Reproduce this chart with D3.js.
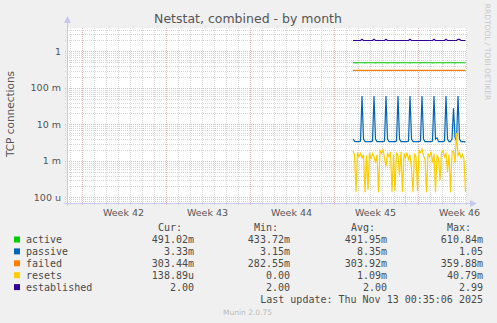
<!DOCTYPE html>
<html>
<head>
<meta charset="utf-8">
<script src="https://cdn.jsdelivr.net/npm/d3@7"></script>
<style>
  body { margin: 0; background: #f0f0f0; }
  svg { display: block; }
  text { font-family: "DejaVu Sans", sans-serif; }
  .mono { font-family: "DejaVu Sans Mono", monospace; font-size: 10px; fill: #4a4a4a; }
</style>
</head>
<body>
<svg id="chart" width="497" height="323" viewBox="0 0 497 323"></svg>
<script>
// series + legend values
const series_names = ["active", "passive", "failed", "resets", "established"]
const series_colors = ["#00cc00", "#0066b3", "#ff8000", "#ffcc00", "#330099"]
const cur_values = ["491.02m", "3.33m", "303.44m", "138.89u", "2.00"]
const min_values = ["433.72m", "3.15m", "282.55m", "0.00", "2.00"]
const avg_values = ["491.95m", "8.35m", "303.92m", "1.09m", "2.00"]
const max_values = ["610.84m", "1.05", "359.88m", "40.79m", "2.99"]

const y_tick_values = [1e-4, 1e-3, 1e-2, 1e-1, 1]
const y_tick_labels = ["100 u", "1 m", "10 m", "100 m", "1"]

// samples every 3 hours starting at this time
const data_start = Date.UTC(2025, 10, 4, 15)
const step_hours = 3

const active = [0.491, 0.491, 0.490, 0.491, 0.491, 0.492, 0.491, 0.491, 0.490, 0.491,
  0.491, 0.491, 0.492, 0.491, 0.491, 0.490, 0.491, 0.491, 0.491, 0.491,
  0.492, 0.491, 0.491, 0.490, 0.491, 0.491, 0.491, 0.492, 0.491, 0.491,
  0.490, 0.491, 0.491, 0.491, 0.491, 0.492, 0.491, 0.491, 0.490, 0.491,
  0.491, 0.491, 0.492, 0.491, 0.491, 0.490, 0.491, 0.491, 0.491, 0.491,
  0.492, 0.491, 0.491, 0.490, 0.491, 0.491, 0.491, 0.492, 0.491, 0.491,
  0.490, 0.491, 0.491, 0.491, 0.491, 0.492, 0.491, 0.491, 0.490, 0.491,
  0.491, 0.491, 0.491, 0.491, 0.491, 0.491]

const passive = [0.0040, 0.0035, 0.0034, 0.0034, 0.0034, 0.0035, 0.06, 0.0040, 0.0034, 0.0034,
  0.0034, 0.0034, 0.0034, 0.0035, 0.06, 0.0040, 0.0034, 0.0034, 0.0034, 0.0034,
  0.0034, 0.0035, 0.06, 0.0040, 0.0034, 0.0034, 0.0034, 0.0034, 0.0034, 0.0035,
  0.06, 0.0040, 0.0034, 0.0034, 0.0034, 0.0034, 0.0034, 0.0035, 0.06, 0.0040,
  0.0034, 0.0034, 0.0034, 0.0034, 0.0034, 0.0035, 0.06, 0.0040, 0.0034, 0.0034,
  0.0034, 0.0034, 0.0034, 0.0035, 0.06, 0.0040, 0.0043, 0.0034, 0.0034, 0.0034,
  0.0034, 0.0035, 0.06, 0.0040, 0.0034, 0.0034, 0.0040, 0.028, 0.0045, 0.0036,
  0.06, 0.0040, 0.0034, 0.0034, 0.0034, 0.0033]

const failed = [0.303, 0.303, 0.304, 0.303, 0.303, 0.303, 0.304, 0.303, 0.303, 0.303,
  0.303, 0.304, 0.303, 0.303, 0.303, 0.303, 0.304, 0.303, 0.303, 0.303,
  0.303, 0.304, 0.303, 0.303, 0.303, 0.303, 0.304, 0.303, 0.303, 0.303,
  0.303, 0.304, 0.303, 0.303, 0.303, 0.303, 0.304, 0.303, 0.303, 0.303,
  0.303, 0.304, 0.303, 0.303, 0.303, 0.303, 0.304, 0.303, 0.303, 0.303,
  0.303, 0.304, 0.303, 0.303, 0.303, 0.303, 0.304, 0.303, 0.303, 0.303,
  0.303, 0.304, 0.303, 0.303, 0.303, 0.303, 0.304, 0.303, 0.303, 0.303,
  0.303, 0.303, 0.303, 0.303, 0.303, 0.303]

const resets = [0.0019, 0.0015, 0.00014, 0.0017, 0.0013, 0.0016, 0.0012, 0.0015, 0.00014, 0.0014,
  0.00016, 0.0017, 0.0011, 0.0016, 0.0013, 0.0009, 0.0015, 0.00014, 0.0019, 0.0016,
  0.0021, 0.0012, 0.0007, 0.0016, 0.0013, 0.0018, 0.00014, 0.0015, 0.00015, 0.0017,
  0.0014, 0.0004, 0.0018, 0.00014, 0.0016, 0.0012, 0.0017, 0.0011, 0.0015, 0.0006,
  0.00014, 0.0016, 0.0013, 0.00015, 0.0019, 0.0017, 0.0021, 0.0014, 0.0011, 0.00014,
  0.0016, 0.0013, 0.0018, 0.0009, 0.0016, 0.00014, 0.0014, 0.0012, 0.0003, 0.0017,
  0.0019, 0.0013, 0.0016, 0.0005, 0.0015, 0.00014, 0.0018, 0.0018, 0.0009, 0.0058,
  0.0014, 0.0017, 0.0012, 0.0015, 0.0011, 0.00014]

const established = [2, 2, 2, 2, 2, 2, 2.15, 2, 2, 2,
  2, 2, 2, 2, 2.15, 2, 2, 2, 2, 2,
  2, 2, 2.15, 2, 2, 2, 2, 2, 2, 2,
  2, 2, 2, 2, 2, 2, 2, 2, 2.15, 2,
  2, 2, 2, 2, 2, 2, 2, 2, 2, 2,
  2, 2, 2, 2, 2.15, 2, 2, 2, 2, 2,
  2, 2, 2.15, 2, 2, 2, 2, 2, 2, 2,
  2.15, 2.15, 2, 2, 2, 2]

const all_series = [active, passive, failed, resets, established]

const svg = d3.select("#chart")
const plot = {left: 67, right: 467, top: 28, bottom: 203}

const x = d3.scaleUtc()
    .domain([Date.UTC(2025, 9, 11, 19), Date.UTC(2025, 10, 14, 3)])
    .range([plot.left, plot.right])
const y = d3.scaleLog()
    .domain([7.06e-5, 4.4])
    .range([plot.bottom, plot.top])

const time_of = i => new Date(data_start + i * step_hours * 3600e3)

// background of plot
svg.append("rect")
    .attr("x", plot.left).attr("y", plot.top)
    .attr("width", plot.right - plot.left).attr("height", plot.bottom - plot.top)
    .attr("fill", "#ffffff")

// grid
const grid = svg.append("g").attr("shape-rendering", "crispEdges")
const minor_y = y.ticks(60).filter(v => Math.abs(Math.log10(v) - Math.round(Math.log10(v))) > 1e-6)
const days = d3.utcDay.range(x.domain()[0], x.domain()[1])
const mondays = d3.utcMonday.range(x.domain()[0], x.domain()[1])

grid.selectAll(".hminor").data(minor_y).enter().append("line")
    .attr("x1", plot.left - 2).attr("x2", plot.right)
    .attr("y1", d => Math.round(y(d)) + 0.5).attr("y2", d => Math.round(y(d)) + 0.5)
    .attr("stroke", "#d6d6d6").attr("stroke-dasharray", "1,1")
grid.selectAll(".vminor").data(days).enter().append("line")
    .attr("x1", d => Math.round(x(d)) + 0.5).attr("x2", d => Math.round(x(d)) + 0.5)
    .attr("y1", plot.top).attr("y2", plot.bottom + 2)
    .attr("stroke", "#d6d6d6").attr("stroke-dasharray", "1,1")
grid.selectAll(".hmajor").data(y_tick_values).enter().append("line")
    .attr("x1", plot.left - 2).attr("x2", plot.right)
    .attr("y1", d => Math.round(y(d)) + 0.5).attr("y2", d => Math.round(y(d)) + 0.5)
    .attr("stroke", "#ebb4b4").attr("stroke-dasharray", "1,1")
grid.selectAll(".vmajor").data(mondays).enter().append("line")
    .attr("x1", d => Math.round(x(d)) + 0.5).attr("x2", d => Math.round(x(d)) + 0.5)
    .attr("y1", plot.top).attr("y2", plot.bottom + 2)
    .attr("stroke", "#ebb4b4").attr("stroke-dasharray", "1,1")

// axes with arrows
const axis_color = "#c8c8ee"
svg.append("line")
    .attr("x1", plot.left + 0.5).attr("x2", plot.left + 0.5)
    .attr("y1", plot.bottom + 3).attr("y2", plot.top - 6)
    .attr("stroke", axis_color)
svg.append("path")
    .attr("d", `M${plot.left - 3},${plot.top - 5} L${plot.left + 0.5},${plot.top - 12} L${plot.left + 4},${plot.top - 5} Z`)
    .attr("fill", axis_color)
svg.append("line")
    .attr("x1", plot.left - 3).attr("x2", plot.right + 4)
    .attr("y1", plot.bottom + 0.5).attr("y2", plot.bottom + 0.5)
    .attr("stroke", axis_color)
svg.append("path")
    .attr("d", `M${plot.right + 3},${plot.bottom - 3} L${plot.right + 10},${plot.bottom + 0.5} L${plot.right + 3},${plot.bottom + 4} Z`)
    .attr("fill", axis_color)

// y tick labels
svg.append("g").selectAll("text").data(y_tick_values).enter().append("text")
    .attr("x", 61).attr("y", d => y(d) + 3.5)
    .attr("text-anchor", "end")
    .attr("font-size", 9.5).attr("fill", "#555")
    .text((d, i) => y_tick_labels[i])

// week labels, centered in the week
svg.append("g").selectAll("text").data(mondays).enter().append("text")
    .attr("x", d => x(d3.utcHour.offset(d, 84)))
    .attr("y", 216)
    .attr("text-anchor", "middle")
    .attr("font-size", 9.5).attr("fill", "#555")
    .text(d => "Week " + d3.utcFormat("%V")(d))

// lines
svg.append("clipPath").attr("id", "clip")
    .append("rect").attr("x", plot.left).attr("y", plot.top)
    .attr("width", plot.right - plot.left).attr("height", plot.bottom - plot.top)
const line = d3.line()
    .x((d, i) => x(time_of(i)))
    .y(d => y(d))
svg.append("g").attr("clip-path", "url(#clip)")
    .selectAll("path").data(all_series).enter().append("path")
    .attr("d", d => line(d))
    .attr("fill", "none")
    .attr("stroke", (d, i) => series_colors[i])
    .attr("stroke-width", 1.2)

// titles
svg.append("text")
    .attr("x", 248).attr("y", 23)
    .attr("text-anchor", "middle")
    .attr("font-size", 12.5).attr("fill", "#555")
    .text("Netstat, combined - by month")
svg.append("text")
    .attr("transform", "translate(14,114) rotate(-90)")
    .attr("text-anchor", "middle")
    .attr("font-size", 10.5).attr("fill", "#555")
    .text("TCP connections")
svg.append("text")
    .attr("transform", "translate(485,52) rotate(90)")
    .attr("text-anchor", "middle")
    .attr("font-size", 7.5).attr("fill", "#c8c8c8")
    .text("RRDTOOL / TOBI OETIKER")

// legend
const legend = svg.append("g")
const headers = [["Cur:", 182], ["Min:", 278], ["Avg:", 375], ["Max:", 471]]
legend.selectAll(".hdr").data(headers).enter().append("text")
    .attr("class", "mono")
    .attr("x", d => d[1]).attr("y", 231)
    .attr("text-anchor", "end")
    .text(d => d[0])

const rows = legend.selectAll(".row").data(series_names).enter().append("g")
    .attr("transform", (d, i) => `translate(0,${243 + i * 11.9})`)
rows.append("rect")
    .attr("x", 14).attr("y", -6.5).attr("width", 6).attr("height", 6)
    .attr("fill", (d, i) => series_colors[i])
rows.append("text").attr("class", "mono")
    .attr("x", 26).attr("y", 0)
    .text(d => d)
const columns = [[cur_values, 194], [min_values, 290], [avg_values, 387], [max_values, 483]]
columns.forEach(c => {
    rows.append("text").attr("class", "mono")
        .attr("x", c[1]).attr("y", 0)
        .attr("text-anchor", "end")
        .text((d, i) => c[0][i])
})

legend.append("text").attr("class", "mono")
    .attr("x", 483).attr("y", 303)
    .attr("text-anchor", "end")
    .text("Last update: Thu Nov 13 00:35:06 2025")
svg.append("text")
    .attr("x", 223).attr("y", 315)
    .attr("font-size", 7.5).attr("fill", "#bbb")
    .text("Munin 2.0.75")
</script>
</body>
</html>
